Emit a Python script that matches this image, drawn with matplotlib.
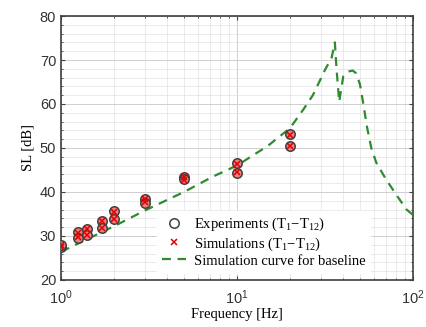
import matplotlib
matplotlib.use("Agg")
import matplotlib.pyplot as plt
from matplotlib.ticker import LogLocator, MultipleLocator, NullFormatter, FixedLocator, FixedFormatter
import numpy as np

plt.rcParams["mathtext.fontset"] = "custom"
plt.rcParams["mathtext.rm"] = "Liberation Serif"
plt.rcParams["mathtext.it"] = "Liberation Serif:italic"
plt.rcParams["mathtext.sf"] = "Liberation Sans"

# Experimental / simulation points (pairs at each frequency)
exp_freq = [1, 1, 1.25, 1.25, 1.4, 1.4, 1.7, 1.7, 2, 2, 3, 3, 5, 5, 10, 10, 20, 20]
exp_sl   = [27.4, 28.0, 30.8, 29.6, 31.6, 30.2, 33.4, 31.8, 35.6, 33.8, 38.4, 37.6, 43.4, 42.9, 46.5, 44.4, 53.1, 50.4]
sim_sl   = [27.5, 28.0, 30.7, 29.7, 31.5, 30.1, 33.3, 31.9, 35.5, 33.9, 38.3, 37.7, 43.3, 42.8, 46.4, 44.5, 53.0, 50.5]

# Baseline simulation curve
base_freq = [1, 1.5, 2, 3, 5, 7.3, 10, 15, 20, 23.7, 27, 31.6, 34.5, 36.0, 36.8, 38.1, 40.2, 43, 45.5, 47.5, 50, 52, 55, 58, 62, 70, 80, 92, 100]
base_sl   = [26.4, 29.8, 32.2, 35.8, 40.0, 43.5, 46.0, 50.5, 54.5, 58.6, 62.0, 67.7, 70.5, 74.0, 68.0, 60.5, 66.3, 67.4, 67.6, 67.0, 64.5, 60.5, 54.5, 50.0, 46.6, 43.0, 39.5, 36.0, 34.8]

# Tick labels
x_ticks = [1, 10, 100]
x_labels = [r"$\mathsf{10^{0}}$", r"$\mathsf{10^{1}}$", r"$\mathsf{10^{2}}$"]

fig = plt.figure(figsize=(4.27, 3.27), dpi=100)
ax = fig.add_axes([0.143, 0.144, 0.824, 0.807])

ax.plot(base_freq, base_sl, linestyle=(0, (4, 3)), color="#2e8b2e", linewidth=1.6,
        label="Simulation curve for baseline", zorder=3)
ax.plot(exp_freq, exp_sl, linestyle="none", marker="o", markersize=6.8,
        markerfacecolor="#f08080", markeredgecolor="#404040", markeredgewidth=1.1,
        label=r"Experiments (T$_\mathrm{1}$$-$T$_\mathrm{12}$)", zorder=4)
ax.plot(exp_freq, sim_sl, linestyle="none", marker="x", markersize=4,
        color="#e00000", markeredgewidth=1.1,
        label=r"Simulations (T$_\mathrm{1}$$-$T$_\mathrm{12}$)", zorder=5)

ax.set_xscale("log")
ax.set_xlim(1, 100)
ax.set_ylim(20, 80)
ax.yaxis.set_major_locator(MultipleLocator(10))
ax.yaxis.set_minor_locator(MultipleLocator(2))
ax.xaxis.set_major_locator(FixedLocator(x_ticks))
ax.xaxis.set_major_formatter(FixedFormatter(x_labels))
ax.xaxis.set_minor_locator(LogLocator(base=10, subs=np.arange(2, 10)))
ax.xaxis.set_minor_formatter(NullFormatter())

ax.grid(which="major", color="#cfcfcf", linewidth=0.7)
ax.grid(which="minor", color="#e2e2e2", linewidth=0.5)
ax.set_axisbelow(True)

for s in ax.spines.values():
    s.set_color("#404040")
    s.set_linewidth(1.2)
ax.tick_params(which="both", direction="in", top=True, right=True, colors="#404040",
               labelcolor="#333333", labelsize=10.5)
ax.tick_params(which="major", length=3)
ax.tick_params(which="minor", length=1.5)
ax.tick_params(axis="x", which="major", pad=6)
for lab in ax.get_yticklabels():
    lab.set_fontfamily("Liberation Sans")

ax.set_xlabel("Frequency [Hz]", family="Liberation Serif", fontsize=10.5, labelpad=1)
ax.set_ylabel("SL [dB]", family="Liberation Serif", fontsize=10.5, labelpad=4)

h, l = ax.get_legend_handles_labels()
order = [1, 2, 0]
leg = ax.legend([h[i] for i in order], [l[i] for i in order],
                loc="lower right", bbox_to_anchor=(0.9, 0.0), frameon=True,
                prop={"family": "Liberation Serif", "size": 10.5},
                handlelength=1.7, handletextpad=0.5, borderpad=0.35, labelspacing=0.12,
                fancybox=False)
leg.get_frame().set_edgecolor("white")
leg.get_frame().set_facecolor("white")
leg.get_frame().set_alpha(1.0)
leg.legend_handles[0].set_markerfacecolor("none")

fig.savefig("out.png", dpi=100)
